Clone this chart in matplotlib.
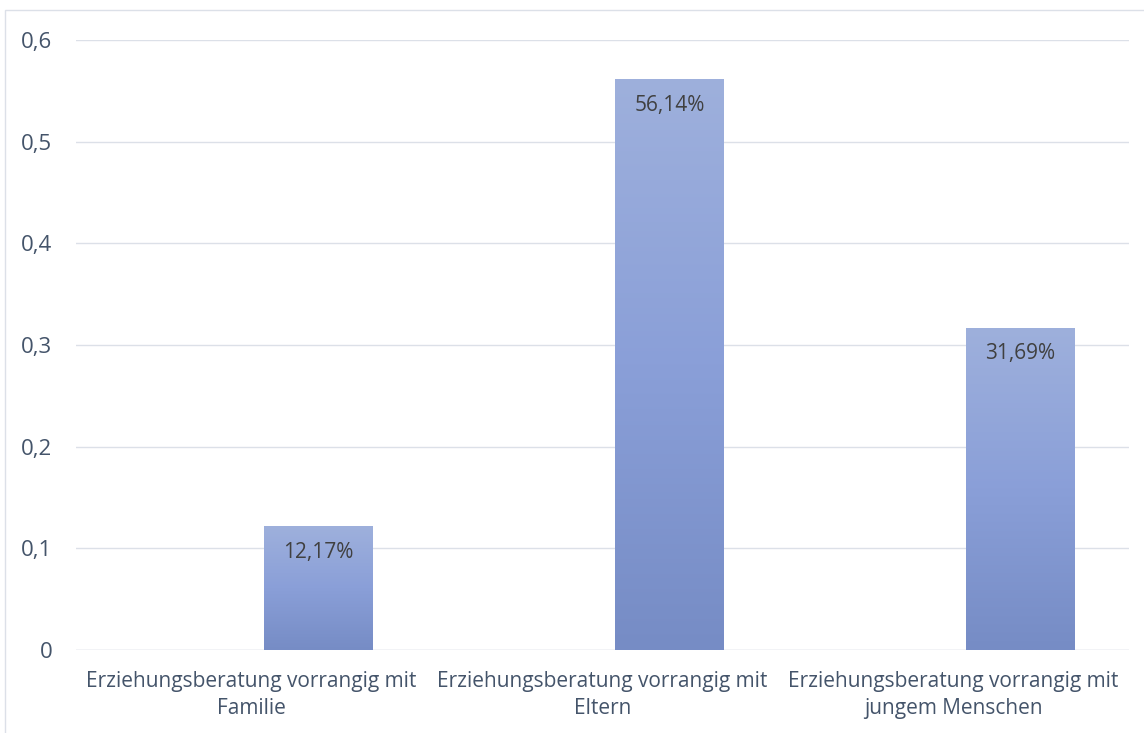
import numpy as np
import matplotlib.pyplot as plt
from matplotlib.colors import LinearSegmentedColormap
from matplotlib.patches import Rectangle

categories = ['Erziehungsberatung vorrangig mit\nFamilie',
              'Erziehungsberatung vorrangig mit\nEltern',
              'Erziehungsberatung vorrangig mit\njungem Menschen']
values = [0.1217, 0.5614, 0.3169]
labels = ['12,17%', '56,14%', '31,69%']
yticks = [0, 0.1, 0.2, 0.3, 0.4, 0.5, 0.6]
ytick_labels = ['0', '0,1', '0,2', '0,3', '0,4', '0,5', '0,6']

text_col = '#44546A'
grid_col = '#DCE0E8'
plt.rcParams['font.family'] = ['Open Sans', 'DejaVu Sans']

fig = plt.figure(figsize=(11.44, 7.33), dpi=100)
ax = fig.add_axes([76 / 1144, 1 - 650 / 733, (1129 - 76) / 1144, 610 / 733])

# chart border
fig.patches.append(Rectangle((5 / 1144, -0.01), 1.2, 1 - 10 / 733 + 0.01,
                             transform=fig.transFigure, fill=False,
                             edgecolor=grid_col, linewidth=1))

grad = LinearSegmentedColormap.from_list(
    'bar', ['#768CC5', '#8A9FD8', '#9EB0DC'])
offset = 0.191
width = 0.31
x = np.arange(len(values))
bars = ax.bar(x + offset, values, width, color='none', zorder=3)
img = np.linspace(0, 1, 256).reshape(-1, 1)
for b in bars:
    x0, y0 = b.get_x(), b.get_y()
    w, h = b.get_width(), b.get_height()
    im = ax.imshow(img, cmap=grad, origin='lower', aspect='auto',
                   extent=[x0, x0 + w, y0, y0 + h], zorder=3)
    im.set_clip_path(b)

for xi, v, lab in zip(x, values, labels):
    ax.annotate(lab, (xi + offset, v), xytext=(0, -11), textcoords='offset points',
                ha='center', va='top', fontsize=15, color='#404040', zorder=4)

ax.set_xlim(-0.5, 2.5)
ax.set_ylim(0, 0.6)
ax.set_yticks(yticks)
ax.set_yticklabels(ytick_labels)
ax.set_xticks(x)
ax.set_xticklabels(categories, linespacing=1.4)
ax.tick_params(axis='both', length=0, colors=text_col)
ax.tick_params(axis='x', labelsize=15, pad=15)
ax.tick_params(axis='y', labelsize=16, pad=17)
ax.grid(axis='y', color=grid_col, linewidth=1, zorder=0)
ax.set_axisbelow(True)
for s in ax.spines.values():
    s.set_visible(False)
ax.axhline(0, color=grid_col, linewidth=1, zorder=2)

fig.savefig('out.png', dpi=100)
